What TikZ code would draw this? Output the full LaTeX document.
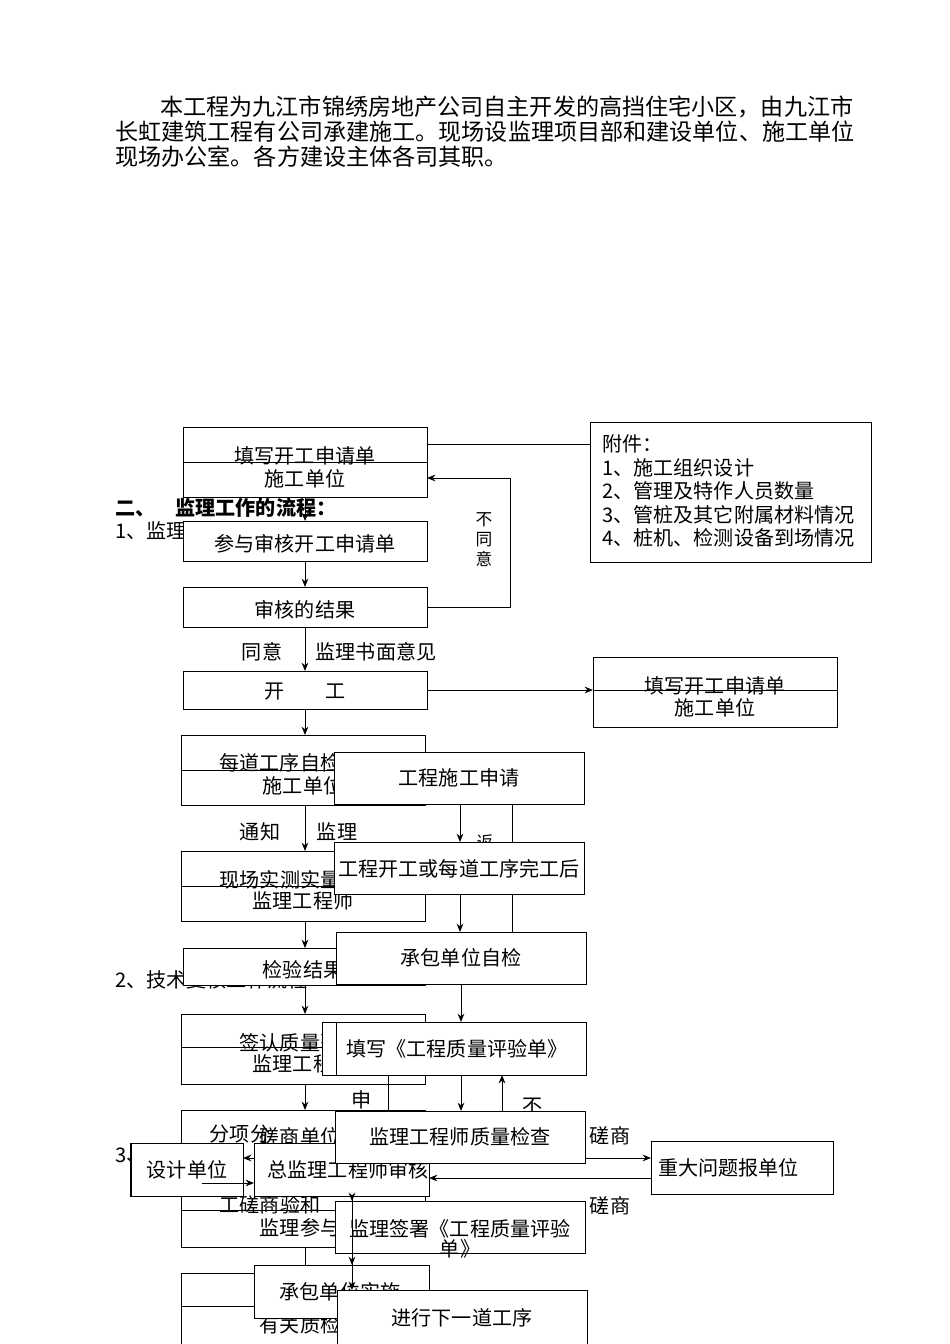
\documentclass[tikz,border=0pt]{standalone}
\usepackage{fontspec}
\setmainfont{Noto Sans CJK SC}
\usetikzlibrary{arrows.meta}
\tikzset{
    box/.style={draw,fill=white,line width=0.6pt},
    txt/.style={font=\fontsize{12}{14}\selectfont,inner sep=0pt},
    para/.style={font=\fontsize{13.8}{16}\selectfont,inner sep=0pt},
    arr/.style={-{Stealth[length=5pt,width=4pt]},line width=0.6pt},
    ln/.style={line width=0.6pt}
}
\begin{document}
\begin{tikzpicture}[x=0.021cm,y=-0.021cm]
    \useasboundingbox (0,0) rectangle (950,1344);
    % Texte
    \node[para,anchor=west] (p1) at (160,107) {本工程为九江市锦绣房地产公司自主开发的高挡住宅小区，由九江市};
    \node[para,anchor=west] (p2) at (115,132) {长虹建筑工程有公司承建施工。现场设监理项目部和建设单位、施工单位};
    \node[para,anchor=west] (p3) at (115,157) {现场办公室。各方建设主体各司其职。};
    \node[txt,anchor=west,font=\bfseries\fontsize{12}{14}\selectfont] (h0) at (115,508) {二、\quad 监理工作的流程：};
    \node[txt,anchor=west] (h1) at (115,531) {1、监理工作流程};
    \node[txt,anchor=west] (h2) at (115,980) {2、技术复核工作流程};
    \node[txt,anchor=west] (h3) at (115,1155) {3、工作流程};
    % Colonne gauche
    \draw[box] (183,427) rectangle (427,497); \draw[ln] (183,462) -- (427,462);
    \node[txt] (b1a) at (305,456) {填写开工申请单};
    \node[txt] (b1b) at (305,479) {施工单位};
    \draw[box] (590,422) rectangle (871,562);
    \node[txt,anchor=west,align=left] (att) at (602,491) {附件：\\1、施工组织设计\\2、管理及特作人员数量\\3、管桩及其它附属材料情况\\4、桩机、检测设备到场情况};
    \draw[box] (183,521) rectangle (427,561); \node[txt] (b2) at (305,544) {参与审核开工申请单};
    \draw[box] (183,587) rectangle (427,627); \node[txt] (b3) at (305,610) {审核的结果};
    \node[txt] (l1) at (262,652) {同意};
    \node[txt] (l2) at (376,652) {监理书面意见};
    \draw[box] (183,671) rectangle (427,709); \node[txt] (b4) at (305,692) {开\qquad 工};
    \draw[box] (593,657) rectangle (837,727); \draw[ln] (593,690) -- (837,690);
    \node[txt] (r2a) at (715,686) {填写开工申请单};
    \node[txt] (r2b) at (715,708) {施工单位};
    \draw[ln] (427,444) -- (590,444);
    \draw[ln] (427,607) -- (510,607) -- (510,478);
    \draw[arr] (510,478) -- (427,478);
    \node[txt,align=center,font=\fontsize{10}{12}\selectfont] (no) at (484,540) {不\\同\\意};
    \draw[arr] (305,497) -- (305,521);
    \draw[arr] (305,561) -- (305,587);
    \draw[arr] (305,627) -- (305,671);
    \draw[arr] (427,690) -- (593,690);
    \draw[arr] (305,709) -- (305,735);
    \draw[box] (181,735) rectangle (425,805); \draw[ln] (181,770) -- (425,770);
    \node[txt] (b5a) at (290,763) {每道工序自检后};
    \node[txt] (b5b) at (303,786) {施工单位};
    \node[txt] (l3) at (260,832) {通知};
    \node[txt] (l4) at (337,832) {监理};
    \draw[arr] (305,805) -- (305,851);
    \draw[box] (181,851) rectangle (425,921); \draw[ln] (181,886) -- (425,886);
    \node[txt] (b6a) at (280,880) {现场实测实量};
    \node[txt] (b6b) at (303,901) {监理工程师};
    \draw[arr] (305,921) -- (305,948);
    \draw[box] (183,948) rectangle (425,985); \node[txt] (b7) at (303,970) {检验结果};
    \draw[arr] (305,985) -- (305,1014);
    \draw[box] (181,1014) rectangle (425,1084); \draw[ln] (181,1047) -- (425,1047);
    \node[txt] (b8a) at (290,1043) {签认质量验};
    \node[txt] (b8b) at (303,1064) {监理工程师};
    \draw[arr] (305,1084) -- (305,1110);
    \draw[box] (181,1110) rectangle (425,1247); \draw[ln] (181,1210) -- (425,1210);
    \node[txt] (b9a) at (240,1134) {分项分};
    \node[txt] (b9b) at (270,1205) {工磋商验和};
    \node[txt] (b9c) at (300,1228) {监理参与};
    \draw[arr] (305,1247) -- (305,1273);
    \draw[box] (181,1273) rectangle (425,1344); \draw[ln] (181,1306) -- (425,1306);
    \node[txt] (b10a) at (295,1302) {工程核};
    \node[txt] (b10b) at (300,1325) {有关质检};
    % Colonne superposée
    \draw[ln] (512,804) -- (512,932);
    \node[txt,font=\fontsize{10}{12}\selectfont] (ret) at (485,842) {返};
    \draw[box] (334,752) rectangle (584,804); \node[txt] (o1) at (459,778) {工程施工申请};
    \draw[arr] (460,804) -- (460,842);
    \draw[box] (334,842) rectangle (584,894); \node[txt] (o2) at (459,869) {工程开工或每道工序完工后};
    \draw[arr] (460,894) -- (460,932);
    \draw[box] (336,932) rectangle (586,984); \node[txt] (o3) at (461,958) {承包单位自检};
    \draw[arr] (461,984) -- (461,1022);
    \draw[box] (322,1022) rectangle (570,1075);
    \draw[box] (336,1022) rectangle (586,1075); \node[txt] (o4) at (457,1049) {填写《工程质量评验单》};
    \draw[ln] (388,1075) -- (388,1111);
    \node[txt] (sh) at (362,1100) {申};
    \draw[arr] (461,1075) -- (461,1111);
    \draw[arr] (502,1111) -- (502,1075);
    \node[txt] (bu) at (533,1107) {不};
    \node[txt] (cs0) at (300,1137) {磋商单位};
    \draw[box] (254,1143) rectangle (429,1196); \node[txt] (o6) at (348,1170) {总监理工程师审核};
    \draw[box] (335,1111) rectangle (585,1163); \node[txt] (o5) at (460,1137) {监理工程师质量检查};
    \draw[box] (131,1143) rectangle (243,1196); \node[txt] (des) at (187,1170) {设计单位};
    \draw[arr] (254,1158) -- (243,1158);
    \draw[arr] (202,1183) -- (254,1183);
    \draw[box] (651,1141) rectangle (833,1194); \node[txt,anchor=west] (big) at (658,1168) {重大问题报单位};
    \draw[arr] (585,1158) -- (651,1158);
    \draw[arr] (651,1178) -- (429,1178);
    \node[txt] (cs1) at (610,1136) {磋商};
    \node[txt] (cs2) at (610,1206) {磋商};
    \draw[arr] (352,1196) -- (352,1201);
    \draw[box] (254,1265) rectangle (429,1318); \node[txt] (o8) at (340,1292) {承包单位实施};
    \draw[box] (335,1201) rectangle (585,1253);
    \node[txt] (o7a) at (460,1229) {监理签署《工程质量评验};
    \node[txt] (o7b) at (460,1249) {单》};
    \draw[arr] (352,1253) -- (352,1265);
    \draw[arr] (352,1196) -- (352,1290);
    \draw[box] (337,1290) rectangle (587,1344); \node[txt] (o9) at (462,1318) {进行下一道工序};
\end{tikzpicture}
\end{document}
